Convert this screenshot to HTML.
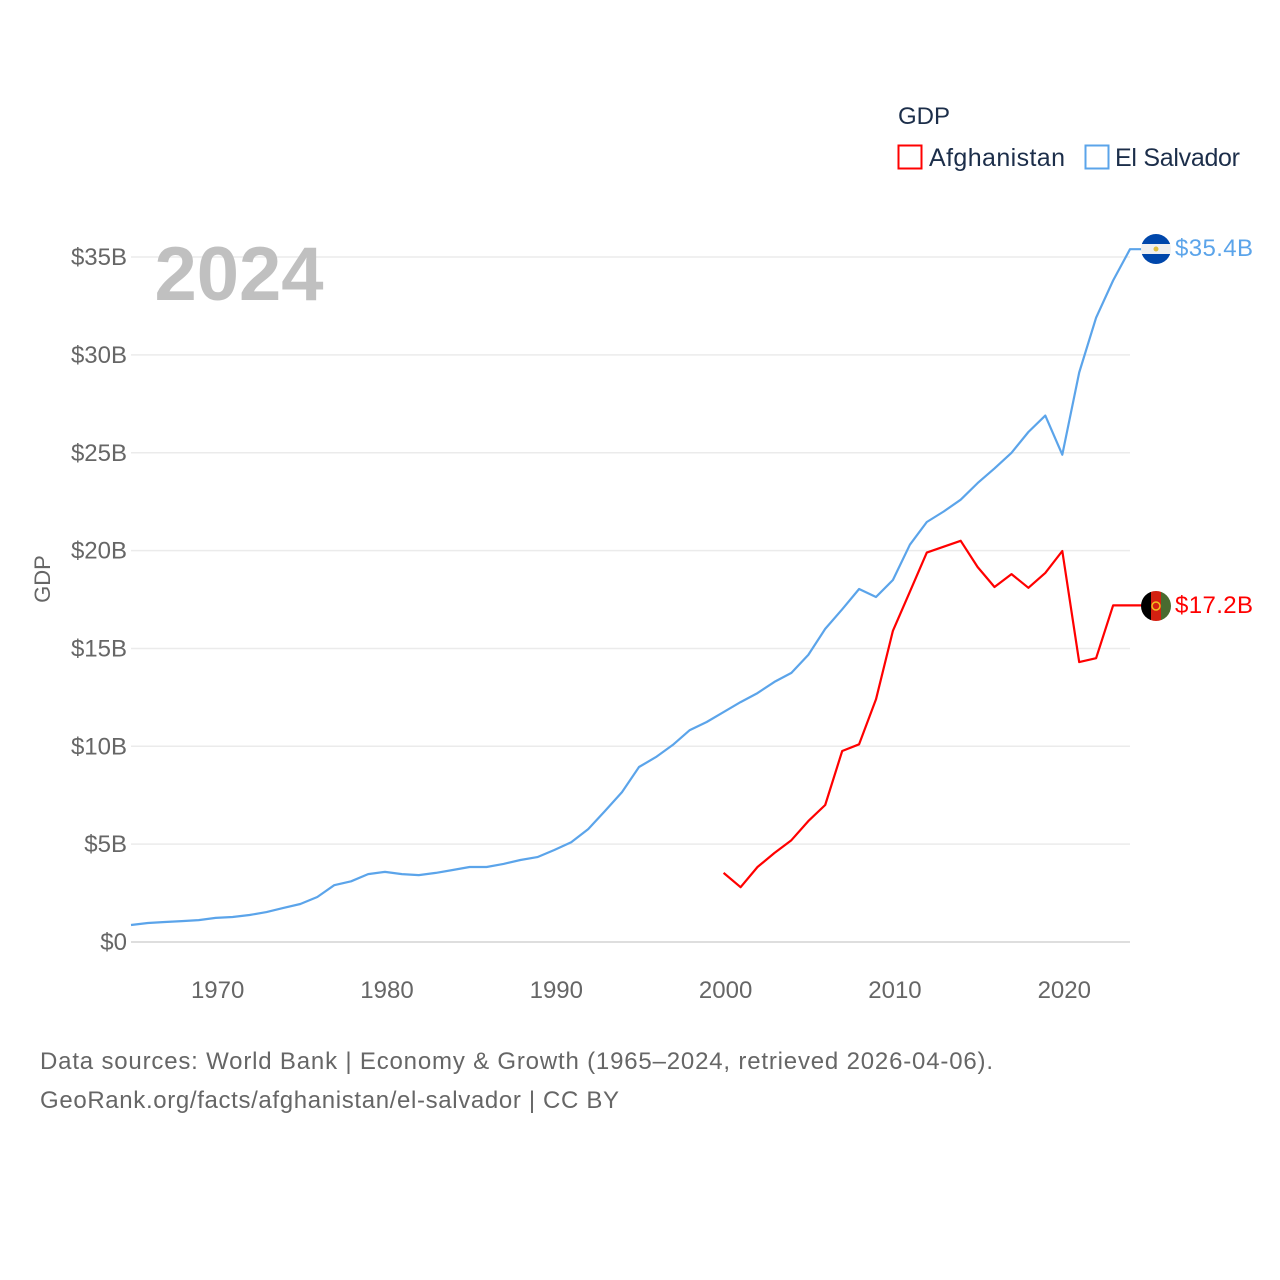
<!DOCTYPE html>
<html><head><meta charset="utf-8"><style>
body{margin:0;background:#fff;}
svg{display:block;font-family:"Liberation Sans",sans-serif;}
</style></head><body>
<svg id="chart" width="1280" height="1280" viewBox="0 0 1280 1280">
<g id="grid"></g>
<g id="yticks"></g>
<g id="xticks"></g>
<text x="239" y="300" text-anchor="middle" font-size="76" font-weight="bold" fill="#c0c0c0">2024</text>
<text transform="translate(50,579) rotate(-90)" text-anchor="middle" font-size="22" fill="#666">GDP</text>
<g id="series"></g>
<g>
<text x="898" y="124" font-size="24" fill="#1c2e4a">GDP</text>
<g>
<rect x="898.5" y="145.5" width="23" height="23" fill="none" stroke="#ff0000" stroke-width="2"/>
<text x="929" y="166" font-size="25" fill="#1c2e4a" textLength="136">Afghanistan</text></g>
<g>
<rect x="1085.5" y="145.5" width="23" height="23" fill="none" stroke="#5ba4ea" stroke-width="2"/>
<text x="1115" y="166" font-size="25" fill="#1c2e4a" textLength="125">El Salvador</text></g>
</g>
<g>
<clipPath id="c1"><circle cx="1156" cy="249" r="15"/></clipPath>
<g clip-path="url(#c1)"><rect x="1141" y="234" width="30" height="10" fill="#0047ab"/><rect x="1141" y="244" width="30" height="10" fill="#f0f0f0"/><rect x="1141" y="254" width="30" height="10" fill="#0047ab"/><circle cx="1156" cy="249" r="2.5" fill="#e0c040"/></g>
</g>
<text x="1175" y="256" font-size="24" fill="#5ba4ea" textLength="78">$35.4B</text>
<g>
<clipPath id="c2"><circle cx="1156" cy="606" r="15"/></clipPath>
<g clip-path="url(#c2)"><rect x="1141" y="591" width="10" height="30" fill="#000"/><rect x="1151" y="591" width="10" height="30" fill="#d32011"/><rect x="1161" y="591" width="10" height="30" fill="#4a6b30"/><circle cx="1156" cy="606" r="4" fill="none" stroke="#f0c020" stroke-width="1.5"/></g>
</g>
<text x="1175" y="613" font-size="24" fill="#ff0000" textLength="78">$17.2B</text>
<text x="40" y="1069" font-size="24" fill="#666" textLength="953">Data sources: World Bank | Economy &amp; Growth (1965–2024, retrieved 2026-04-06).</text>
<text x="40" y="1108" font-size="24" fill="#666" textLength="579">GeoRank.org/facts/afghanistan/el-salvador | CC BY</text>
</svg>
<script>
const yTicks=[0,5,10,15,20,25,30,35];
const yTickLabels=["$0","$5B","$10B","$15B","$20B","$25B","$30B","$35B"];
const xTicks=[1970,1980,1990,2000,2010,2020];
const elsYears=[1965,1966,1967,1968,1969,1970,1971,1972,1973,1974,1975,1976,1977,1978,1979,1980,1981,1982,1983,1984,1985,1986,1987,1988,1989,1990,1991,1992,1993,1994,1995,1996,1997,1998,1999,2000,2001,2002,2003,2004,2005,2006,2007,2008,2009,2010,2011,2012,2013,2014,2015,2016,2017,2018,2019,2020,2021,2022,2023,2024];
const elsValues=[0.87,0.97,1.02,1.07,1.12,1.23,1.28,1.38,1.53,1.74,1.94,2.3,2.9,3.1,3.47,3.58,3.47,3.42,3.53,3.68,3.83,3.83,3.99,4.19,4.34,4.7,5.1,5.77,6.7,7.66,8.94,9.45,10.07,10.83,11.24,11.75,12.26,12.72,13.29,13.75,14.67,16.0,17.0,18.04,17.63,18.5,20.3,21.46,22.0,22.6,23.45,24.2,25.0,26.06,26.9,24.9,29.1,31.9,33.8,35.4];
const afgYears=[2000,2001,2002,2003,2004,2005,2006,2007,2008,2009,2010,2011,2012,2013,2014,2015,2016,2017,2018,2019,2020,2021,2022,2023,2024];
const afgValues=[3.53,2.8,3.83,4.55,5.2,6.18,7.0,9.76,10.1,12.4,15.9,17.9,19.9,20.2,20.5,19.16,18.14,18.8,18.1,18.86,19.98,14.3,14.5,17.2,17.2];
const NS='http://www.w3.org/2000/svg';
const x=yr=>131+(yr-1965)*(999/59);
const y=v=>942-v*19.57;
const grid=document.getElementById('grid'),yt=document.getElementById('yticks'),xt=document.getElementById('xticks'),ser=document.getElementById('series');
yTicks.forEach((v,i)=>{
  const l=document.createElementNS(NS,'line');
  l.setAttribute('x1',131);l.setAttribute('x2',1130);l.setAttribute('y1',y(v));l.setAttribute('y2',y(v));
  l.setAttribute('stroke',i===0?'#dedede':'#ebebeb');l.setAttribute('stroke-width',i===0?2:1.5);
  
  
  grid.appendChild(l);
  const t=document.createElementNS(NS,'text');
  t.setAttribute('x',127);t.setAttribute('y',y(v)+8);t.setAttribute('text-anchor','end');
  t.setAttribute('font-size','24');t.setAttribute('fill','#666');t.textContent=yTickLabels[i];
  
  
  yt.appendChild(t);
});
xTicks.forEach(yr=>{
  const t=document.createElementNS(NS,'text');
  t.setAttribute('x',x(yr)+2);t.setAttribute('y',998);t.setAttribute('text-anchor','middle');
  t.setAttribute('font-size','24');t.setAttribute('fill','#666');t.textContent=yr;
  
  
  xt.appendChild(t);
});
function line(years,vals,color,name){
  const p=document.createElementNS(NS,'polyline');
  let pts=years.map((yr,i)=>x(yr).toFixed(1)+','+y(vals[i]).toFixed(1));
  pts.push('1142,'+y(vals[vals.length-1]).toFixed(1));
  p.setAttribute('points',pts.join(' '));
  p.setAttribute('fill','none');p.setAttribute('stroke',color);p.setAttribute('stroke-width',2.2);
  p.setAttribute('stroke-linejoin','round');
  
  
  ser.appendChild(p);
}
line(elsYears,elsValues,'#5ba4ea','el-salvador-line');
line(afgYears,afgValues,'#ff0000','afghanistan-line');
</script>
</body></html>
